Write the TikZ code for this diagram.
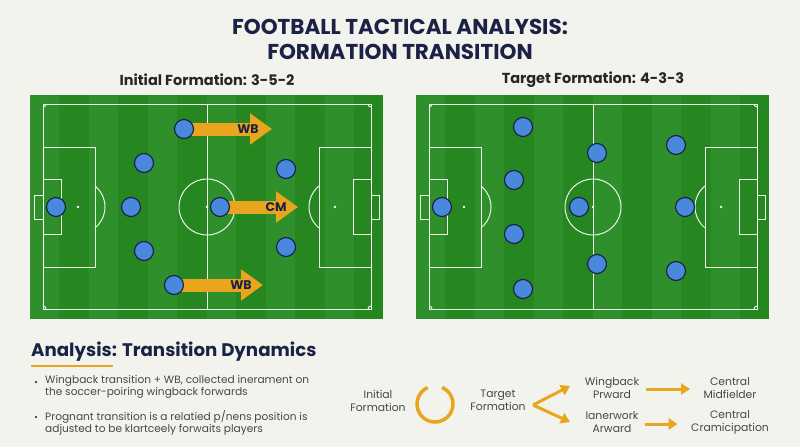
\documentclass[tikz,border=0pt]{standalone}
\usepackage{fontspec}
\setmainfont{Poppins}
\usetikzlibrary{arrows.meta,positioning}
\definecolor{paper}{HTML}{F3F3EE}
\definecolor{navy}{HTML}{1B2245}
\definecolor{ink}{HTML}{474747}
\definecolor{turfA}{HTML}{2F8F2B}
\definecolor{turfB}{HTML}{26861F}
\definecolor{gold}{HTML}{E9A51D}
\definecolor{shirt}{HTML}{4A88DC}
\definecolor{rim}{HTML}{13204A}
\tikzset{
  pitchline/.style={white,line width=1pt,opacity=0.9},
  player/.style={circle,fill=shirt,draw=rim,line width=1.1pt,minimum size=19pt,inner sep=0pt},
  runarrow/.style={gold,line width=13pt,-{Triangle[width=30pt,length=22pt]}},
  runlabel/.style={font=\bfseries\fontsize{12.5}{12}\selectfont,text=navy},
  flowtext/.style={font=\fontsize{10.8}{13}\selectfont,text=ink,align=center},
  flowarrow/.style={gold,line width=3pt,-{Triangle[width=11pt,length=9pt]}}
}
\begin{document}
\begin{tikzpicture}[x=1pt,y=-1pt]
\useasboundingbox (0,0) rectangle (800,447);
\fill[paper] (0,0) rectangle (800,447);
% titles
\node[font=\bfseries\fontsize{21.5}{25}\selectfont,text=navy,align=center] (title) at (400,39)
  {FOOTBALL TACTICAL ANALYSIS:\\FORMATION TRANSITION};
\node[font=\bfseries\fontsize{14.5}{15}\selectfont,text=black!85] (lefthead) at (207,80) {Initial Formation: 3-5-2};
\node[font=\bfseries\fontsize{14.5}{15}\selectfont,text=black!85] (righthead) at (593,80) {Target Formation: 4-3-3};
% both pitches
\foreach \ox in {0,386} {
  \begin{scope}[xshift=\ox pt]
    \foreach \i in {0,...,11}
      \fill[\ifodd\i turfB\else turfA\fi] ({30+\i*29.45},95) rectangle ({30+(\i+1)*29.45},319);
    \draw[pitchline] (43,104) rectangle (371,309);
    \draw[pitchline] (207,104) -- (207,309);
    \draw[pitchline] (207,207) circle (28);
    \fill[white] (207,207) circle (1.3);
    % left end
    \draw[pitchline] (43,147) rectangle (95,267);
    \draw[pitchline] (43,179) rectangle (61,234);
    \draw[pitchline] (43,195) -- (34,195) -- (34,219) -- (43,219);
    \fill[white] (78,207) circle (1.3);
    \draw[pitchline] (95,186) arc (-51:51:27);
    % right end
    \draw[pitchline] (319,147) rectangle (371,267);
    \draw[pitchline] (353,179) rectangle (371,234);
    \draw[pitchline] (371,195) -- (379,195) -- (379,219) -- (371,219);
    \fill[white] (335,207) circle (1.3);
    \draw[pitchline] (319,186) arc (231:129:27);
    % corners
    \draw[pitchline] (46,104) arc (0:90:3);
    \draw[pitchline] (368,104) arc (180:90:3);
    \draw[pitchline] (46,309) arc (0:-90:3);
    \draw[pitchline] (368,309) arc (180:270:3);
  \end{scope}
}
% runs of the 3-5-2
\coordinate (wbtop) at (184,129);
\coordinate (cmid) at (220,207);
\coordinate (wbbot) at (174,285);
\coordinate (wbtoptip) at (272,129);
\coordinate (cmidtip) at (298,207);
\coordinate (wbbottip) at (263,285);
\draw[runarrow] (wbtop) -- (wbtoptip);
\draw[runarrow] (cmid) -- (cmidtip);
\draw[runarrow] (wbbot) -- (wbbottip);
\node[runlabel] (wbtoplab) at (248,129) {WB};
\node[runlabel] (cmidlab) at (276,207) {CM};
\node[runlabel] (wbbotlab) at (241,285) {WB};
% players 3-5-2
\node[player] (ia) at (56,207) {};
\node[player] (ib) at (144,163) {};
\node[player] (ic) at (131,207) {};
\node[player] (id) at (144,251) {};
\node[player] (ie) at (wbtop) {};
\node[player] (if) at (cmid) {};
\node[player] (ig) at (wbbot) {};
\node[player] (ih) at (286,169) {};
\node[player] (ii) at (286,247) {};
% players 4-3-3
\node[player] (ta) at (442,207) {};
\node[player] (tb) at (523,127) {};
\node[player] (tc) at (514,180) {};
\node[player] (td) at (514,234) {};
\node[player] (te) at (523,289) {};
\node[player] (tf) at (597,153) {};
\node[player] (tg) at (579,207) {};
\node[player] (th) at (597,264) {};
\node[player] (ti) at (676,145) {};
\node[player] (tj) at (685,207) {};
\node[player] (tk) at (676,271) {};
% analysis text
\node[anchor=west,font=\bfseries\fontsize{18.2}{20}\selectfont,text=navy,inner sep=0pt] (analysis) at (31,352) {Analysis: Transition Dynamics};
\draw[gold,line width=2.5pt] (31,366) -- (113,366);
\node[anchor=north west,font=\fontsize{10.6}{12.2}\selectfont,text=ink,align=left,inner sep=0pt] (bulletA) at (45,375.5)
  {Wingback transition + WB, collected inerament on\\the soccer-poiring wingback forwards};
\node[anchor=north west,font=\fontsize{10.6}{12.2}\selectfont,text=ink,align=left,inner sep=0pt] (bulletB) at (45,410.5)
  {Prognant transition is a relatied p/nens position is\\adjusted to be klartceely forwaits players};
\fill[ink] (36,382) circle (1.4);
\fill[ink] (36,417) circle (1.4);
% flow
\node[flowtext] (initf) at (378,400.5) {Initial\\Formation};
\draw[gold,line width=3.5pt] (435,404) ++(-67:18) arc (-67:246:18);
\node[flowtext] (targf) at (498,400.5) {Target\\Formation};
\coordinate (fork) at (533,405);
\coordinate (upper) at (570,386);
\coordinate (lower) at (570,422);
\draw[flowarrow] (fork) -- (upper);
\draw[flowarrow] (fork) -- (lower);
\node[flowtext] (wbfwd) at (612,388) {Wingback\\Prward};
\node[flowtext] (inner) at (612,422.5) {Ianerwork\\Arward};
\node[flowtext] (cmfield) at (730,388) {Central\\Midfielder};
\node[flowtext] (cmcram) at (730,422.5) {Central\\Cramicipation};
\draw[flowarrow,shorten <=3pt,shorten >=10pt] (wbfwd.east |- 0,389) -- (cmfield.west |- 0,389);
\draw[flowarrow,shorten <=3pt,shorten >=10pt] (inner.east |- 0,424) -- (cmcram.west |- 0,424);
\end{tikzpicture}
\end{document}
